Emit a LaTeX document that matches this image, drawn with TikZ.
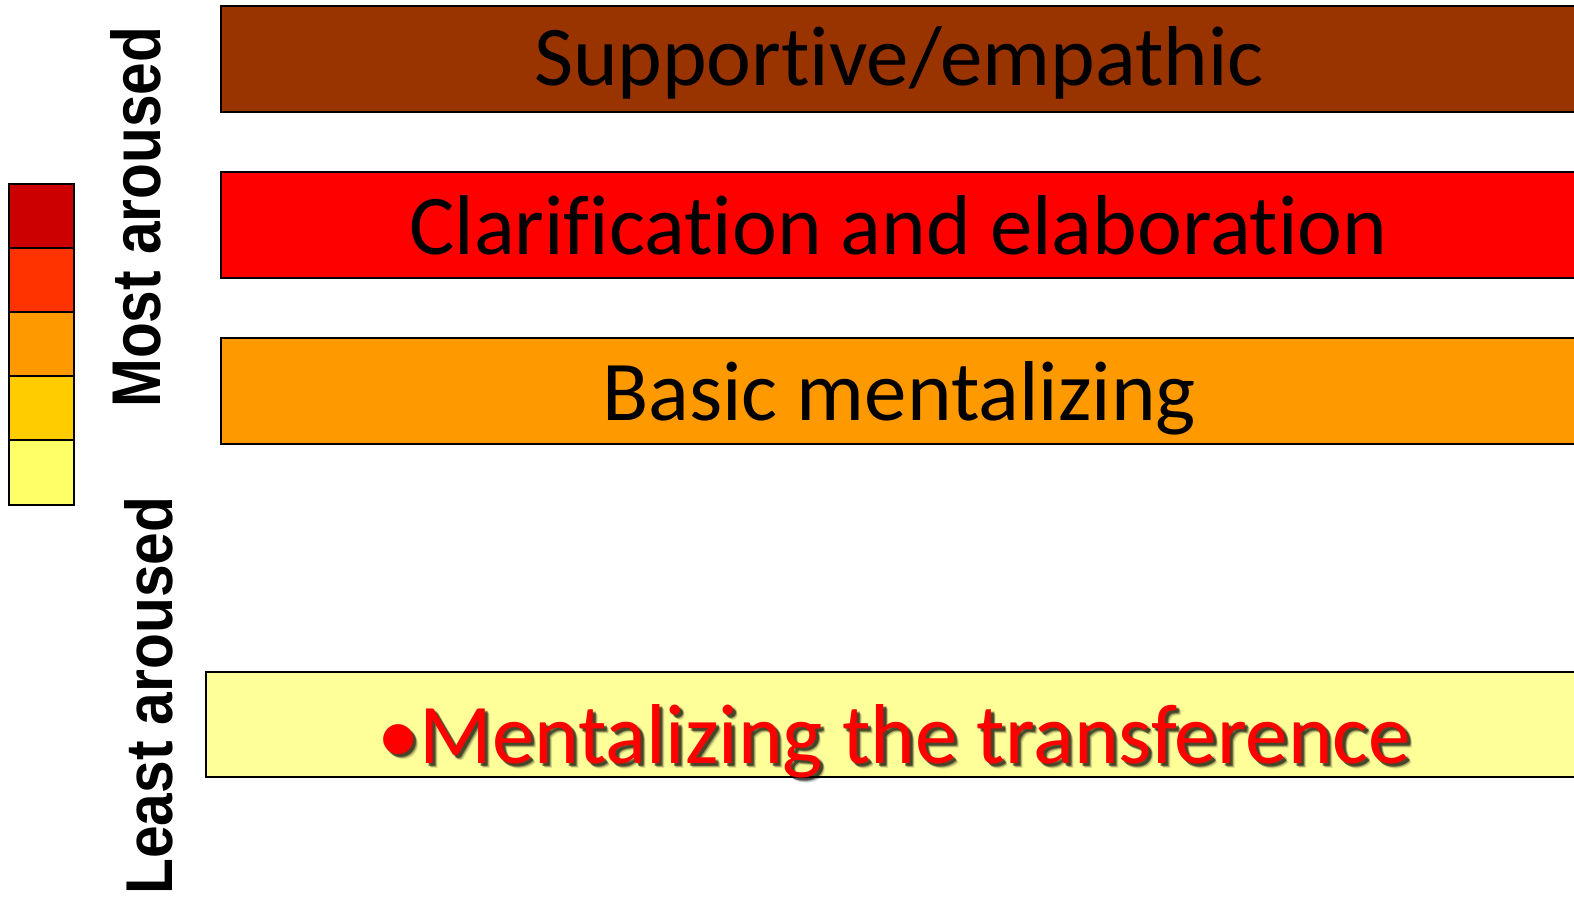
\documentclass[tikz,border=0pt]{standalone}
\usepackage{fontspec}
\setmainfont[Ligatures={NoCommon}]{Carlito}
\newfontfamily\labelfont{Liberation Sans}
\definecolor{brownbar}{HTML}{993300}
\definecolor{redbar}{HTML}{FF0000}
\definecolor{orangebar}{HTML}{FF9900}
\definecolor{palebar}{HTML}{FFFF99}
\definecolor{scaleA}{HTML}{CC0000}
\definecolor{scaleB}{HTML}{FF3300}
\definecolor{scaleC}{HTML}{FF9900}
\definecolor{scaleD}{HTML}{FFCC00}
\definecolor{scaleE}{HTML}{FFFF66}
\newcommand{\transtext}{\textbullet Mentalizing the transference}
\tikzset{
  bar/.style={draw=black, line width=1.6pt},
  scalecell/.style={draw=black, line width=1.6pt},
  bartext/.style={inner sep=0pt, anchor=base, font=\fontsize{85}{85}\selectfont},
  sidelabel/.style={inner sep=0pt, anchor=base west, rotate=90}
}
\begin{document}
\begin{tikzpicture}[x=1pt, y=-1pt]
\useasboundingbox (0,0) rectangle (1574,899);
\fill[white] (0,0) rectangle (1574,899);

% level bars, running off the right edge
\draw[bar, fill=brownbar]  (221,6)   rectangle (1600,112);
\draw[bar, fill=redbar]    (221,172) rectangle (1600,278);
\draw[bar, fill=orangebar] (221,338) rectangle (1600,444);
\draw[bar, fill=palebar]   (206,672) rectangle (1600,777);

\node[bartext] (supp) at (899,85)  {Supportive/empathic};
\node[bartext] (clar) at (898.5,254) {Clarification and elaboration};
\node[bartext] (basic) at (899,420) {Basic mentalizing};

% red label with a soft dark drop shadow
\foreach \dx/\dy/\op [count=\i] in {3/3/0.35, 4/4/0.25, 2.5/3.5/0.2, 3.5/2.5/0.2, 5/5/0.12}
  \node[bartext, text=black, opacity=\op]
    (shadow\i) at (894+\dx,763+\dy) {\transtext};
\node[bartext, text=redbar] (trans) at (894,763) {\transtext};

% arousal colour scale
\draw[scalecell, fill=scaleA] (9,184) rectangle (74,248);
\draw[scalecell, fill=scaleB] (9,248) rectangle (74,312);
\draw[scalecell, fill=scaleC] (9,312) rectangle (74,376);
\draw[scalecell, fill=scaleD] (9,376) rectangle (74,440);
\draw[scalecell, fill=scaleE] (9,440) rectangle (74,505);

% axis labels
\node[sidelabel] (most) at (160,408)
  {\resizebox{381pt}{50pt}{\labelfont\bfseries Most aroused}};
\node[sidelabel] (least) at (172,895)
  {\resizebox{398pt}{48pt}{\labelfont\bfseries Least aroused}};
\end{tikzpicture}
\end{document}
